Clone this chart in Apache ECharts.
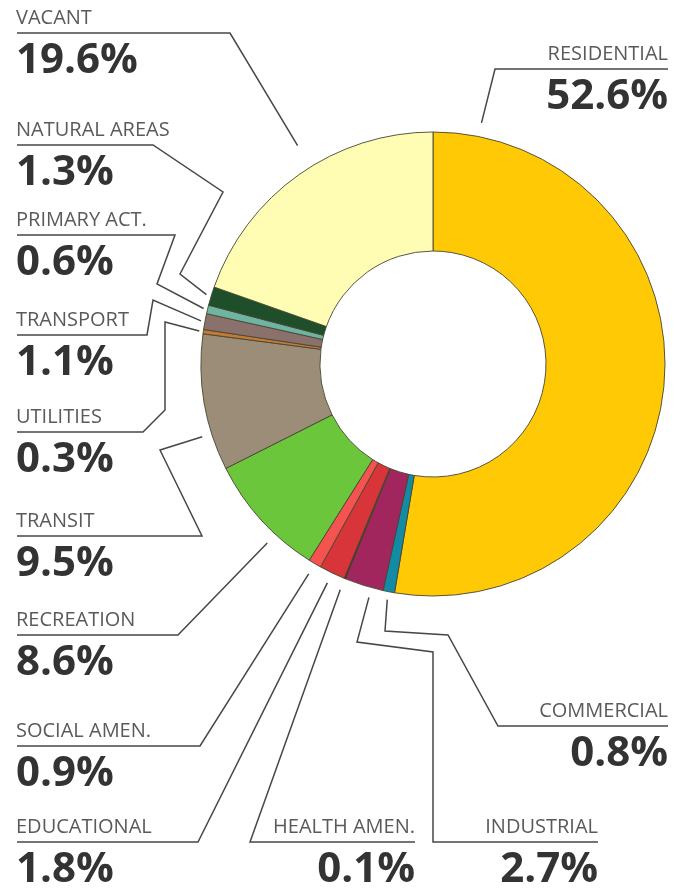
<!DOCTYPE html>
<html>
<head>
<meta charset="utf-8">
<title>Land use</title>
<script src="https://cdn.jsdelivr.net/npm/echarts@6/dist/echarts.min.js"></script>
<style>
  html, body { margin: 0; padding: 0; background: #ffffff; }
  #chart { width: 677px; height: 891px; }
</style>
</head>
<body>
<div id="chart"></div>
<script>
// Land-use categories, clockwise from 12 o'clock
const categories = [
  'RESIDENTIAL', 'COMMERCIAL', 'INDUSTRIAL', 'HEALTH AMEN.', 'EDUCATIONAL',
  'SOCIAL AMEN.', 'RECREATION', 'TRANSIT', 'UTILITIES', 'TRANSPORT',
  'PRIMARY ACT.', 'NATURAL AREAS', 'VACANT'
];
// Share of total area, percent
const shares = [52.6, 0.8, 2.7, 0.1, 1.8, 0.9, 8.6, 9.5, 0.3, 1.1, 0.6, 1.3, 19.6];

const colors = [
  '#FFCA05', '#148BA4', '#A2265E', '#7E0A0A', '#D8353A',
  '#F45350', '#6CC63C', '#9B8D78', '#C47A34', '#8B716B',
  '#6FB3A1', '#1F4E2A', '#FFFDB3'
];

// Callout placement: text side and anchor x, underline y, underline extent,
// bends between the underline and the ring, where along the slice the line lands.
const callouts = {
  'RESIDENTIAL':   { side: 'right', tx: 668, y: 69,  under: [495, 668], bends: [], at: 0.06, gap: 14 },
  'COMMERCIAL':    { side: 'right', tx: 668, y: 726, under: [498, 668], bends: [[448, 635], [385, 631]], at: 0.5, gap: 8 },
  'INDUSTRIAL':    { side: 'right', tx: 598, y: 842, under: [433, 598], bends: [[433, 652], [357, 642]], at: 0.3, gap: 10 },
  'HEALTH AMEN.':  { side: 'right', tx: 415, y: 842, under: [250, 415], bends: [], at: 0.5, gap: 12 },
  'EDUCATIONAL':   { side: 'left',  tx: 16,  y: 842, under: [17, 198], bends: [], at: 0.5, gap: 11 },
  'SOCIAL AMEN.':  { side: 'left',  tx: 16,  y: 746, under: [17, 200], bends: [], at: 0.5, gap: 12 },
  'RECREATION':    { side: 'left',  tx: 16,  y: 635, under: [17, 178], bends: [], at: 0.34, gap: 12 },
  'TRANSIT':       { side: 'left',  tx: 16,  y: 536, under: [17, 202], bends: [[160, 450]], at: 0.27, gap: 10 },
  'UTILITIES':     { side: 'left',  tx: 16,  y: 432, under: [17, 143], bends: [[165, 410], [165, 322]], at: 0.5, gap: 4 },
  'TRANSPORT':     { side: 'left',  tx: 16,  y: 335, under: [17, 147], bends: [[153, 300]], at: 0.5, gap: 4 },
  'PRIMARY ACT.':  { side: 'left',  tx: 16,  y: 235, under: [17, 175], bends: [[157, 284]], at: 0.5, gap: 4 },
  'NATURAL AREAS': { side: 'left',  tx: 16,  y: 145, under: [17, 153], bends: [[223, 192], [180, 274]], at: 0.5, gap: 5 },
  'VACANT':        { side: 'left',  tx: 16,  y: 33,  under: [17, 230], bends: [], at: 0.55, gap: 25 }
};

const CENTER = [433, 364];
const RADII = [113, 232];
const LINE_COLOR = '#474747';
const NAME_FONT = { fontFamily: '"Open Sans", "DejaVu Sans", sans-serif', fontSize: 20, fontWeight: 'normal', fill: '#5a5a5a' };
const PCT_FONT = { fontFamily: '"Open Sans", "DejaVu Sans", sans-serif', fontSize: 42, fontWeight: 'bold', fill: '#333333' };

const chart = echarts.init(document.getElementById('chart'), null, { renderer: 'canvas' });

chart.setOption({
  animation: false,
  backgroundColor: '#ffffff',
  series: [{
    type: 'pie',
    center: CENTER,
    radius: RADII,
    startAngle: 90,
    clockwise: true,
    avoidLabelOverlap: false,
    silent: true,
    label: { show: false },
    labelLine: { show: false },
    emphasis: { disabled: true },
    itemStyle: { borderColor: 'rgba(70,70,50,0.9)', borderWidth: 1 },
    data: categories.map((name, i) => ({
      name: name,
      value: shares[i],
      itemStyle: { color: colors[i] }
    }))
  }]
});

// Slice geometry as laid out by the pie series
function sliceGeometry(i) {
  try {
    const data = chart.getModel().getSeriesByIndex(0).getData();
    const l = data.getItemLayout(i);
    if (l && isFinite(l.startAngle)) return l;
  } catch (e) { /* fall through */ }
  const total = shares.reduce((s, v) => s + v, 0);
  let acc = 0;
  for (let k = 0; k < i; k++) acc += shares[k];
  const a0 = -Math.PI / 2 + acc / total * Math.PI * 2;
  return { cx: CENTER[0], cy: CENTER[1], r: RADII[1], r0: RADII[0],
           startAngle: a0, endAngle: a0 + shares[i] / total * Math.PI * 2 };
}

const elements = [];
categories.forEach((name, i) => {
  const c = callouts[name];
  const g = sliceGeometry(i);
  const ang = g.startAngle + (g.endAngle - g.startAngle) * c.at;
  const rr = g.r + c.gap;
  const anchor = [g.cx + rr * Math.cos(ang), g.cy + rr * Math.sin(ang)];

  const outer = c.side === 'left' ? c.under[0] : c.under[1];
  const inner = c.side === 'left' ? c.under[1] : c.under[0];
  const pts = [[outer, c.y], [inner, c.y]].concat(c.bends).concat([anchor]);

  elements.push({
    type: 'polyline',
    silent: true,
    shape: { points: pts },
    style: { stroke: LINE_COLOR, lineWidth: 1.5, fill: null }
  });
  elements.push({
    type: 'text',
    silent: true,
    x: c.tx, y: c.y - 15,
    style: Object.assign({ text: name, align: c.side, verticalAlign: 'middle' }, NAME_FONT)
  });
  elements.push({
    type: 'text',
    silent: true,
    x: c.tx, y: c.y + 28,
    style: Object.assign({ text: shares[i].toFixed(1) + '%', align: c.side, verticalAlign: 'middle' }, PCT_FONT)
  });
});

chart.setOption({ graphic: { elements: elements } });
</script>
</body>
</html>
